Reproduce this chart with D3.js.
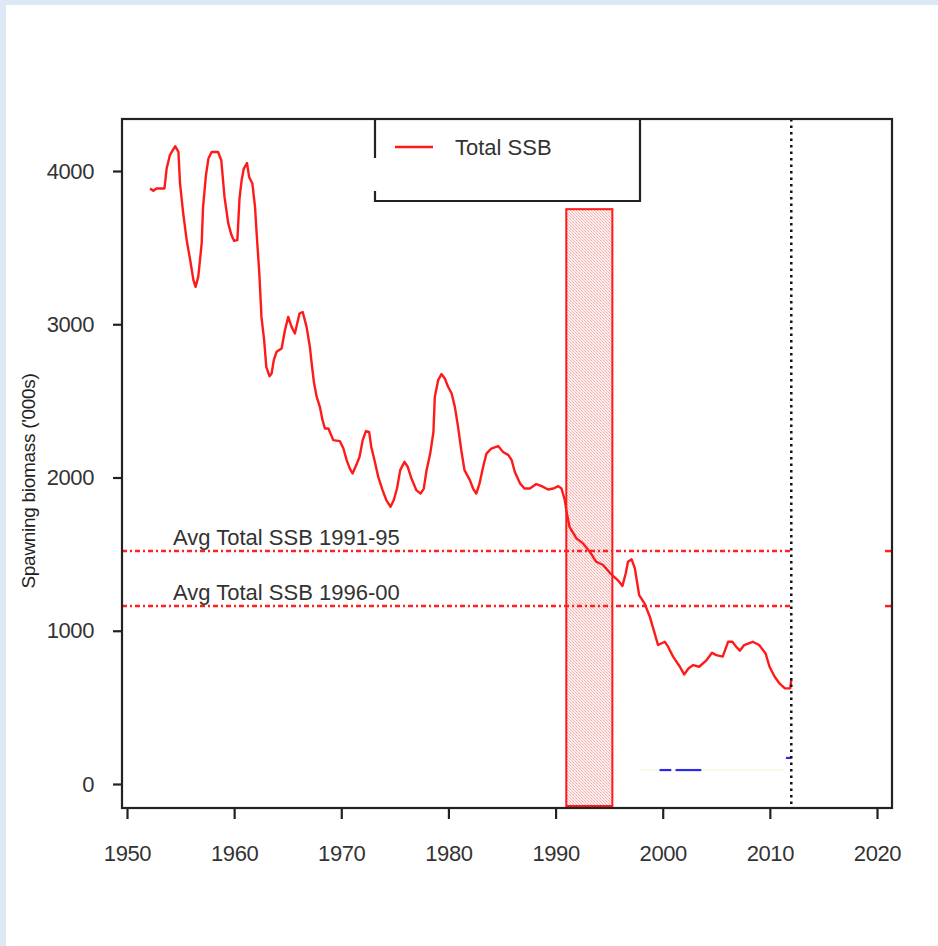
<!DOCTYPE html>
<html>
<head>
<meta charset="utf-8">
<script src="https://cdn.jsdelivr.net/npm/d3@7"></script>
<style>
  html, body { margin: 0; padding: 0; background: #ffffff; }
  svg { display: block; }
  text { font-family: "Liberation Sans", Arial, sans-serif; }
</style>
</head>
<body>
<svg id="chart" width="938" height="946"></svg>
<script>
// Total spawning stock biomass ('000s), sub-annual model output
const ssbYears = [
  1952.15, 1952.45, 1952.75, 1953.5, 1953.7, 1954.0, 1954.5, 1954.8, 1954.95, 1955.25,
  1955.57, 1955.9, 1956.2, 1956.4, 1956.65, 1956.97, 1957.1, 1957.37, 1957.6, 1957.9,
  1958.5, 1958.8, 1959.1, 1959.45, 1959.75, 1960.0, 1960.3, 1960.5, 1960.7, 1960.9,
  1961.2, 1961.4, 1961.7, 1961.95, 1962.1, 1962.35, 1962.55, 1962.8, 1963.0, 1963.3,
  1963.5, 1963.7, 1963.96, 1964.43, 1964.74, 1965.05, 1965.36, 1965.67, 1966.1, 1966.4,
  1966.76, 1967.07, 1967.2, 1967.45, 1967.7, 1968.0, 1968.25, 1968.47, 1968.8, 1969.25,
  1969.87, 1970.2, 1970.5, 1970.8, 1971.05, 1971.4, 1971.7, 1972.0, 1972.3, 1972.6,
  1972.8, 1973.1, 1973.45, 1973.85, 1974.2, 1974.6, 1974.9, 1975.2, 1975.5, 1975.9,
  1976.2, 1976.55, 1977.0, 1977.4, 1977.7, 1977.96, 1978.3, 1978.6, 1978.73, 1979.04,
  1979.35, 1979.66, 1979.97, 1980.3, 1980.6, 1980.9, 1981.2, 1981.5, 1982.0, 1982.3,
  1982.6, 1982.9, 1983.24, 1983.55, 1984.0, 1984.64, 1985.1, 1985.6, 1985.9, 1986.2,
  1986.7, 1987.1, 1987.6, 1988.2, 1988.7, 1989.3, 1989.8, 1990.25, 1990.55, 1990.86,
  1991.0, 1991.3, 1991.95, 1992.56, 1993.2, 1993.8, 1994.44, 1995.06, 1995.8, 1996.24,
  1996.55, 1996.76, 1997.1, 1997.4, 1997.8, 1998.3, 1998.8, 1999.25, 1999.56, 2000.2,
  2000.5, 2000.97, 2001.6, 2002.0, 2002.4, 2002.85, 2003.4, 2004.1, 2004.6, 2005.0,
  2005.6, 2006.1, 2006.5, 2006.86, 2007.2, 2007.6, 2008.4, 2009.0, 2009.6, 2009.97,
  2010.45, 2010.9, 2011.4, 2011.9, 2012.0
];
const ssbValues = [
  3886, 3871, 3886, 3886, 4016, 4103, 4162, 4124, 3918, 3722,
  3549, 3418, 3288, 3244, 3309, 3527, 3766, 3973, 4081, 4124,
  4124, 4070, 3831, 3658, 3582, 3544, 3549, 3820, 3940, 4016,
  4052, 3961, 3918, 3766, 3592, 3331, 3048, 2896, 2722, 2661,
  2679, 2766, 2820, 2842, 2961, 3048, 2983, 2940, 3070, 3080,
  2983, 2852, 2766, 2620, 2527, 2461, 2374, 2320, 2320, 2244,
  2237, 2189, 2113, 2058, 2026, 2081, 2134, 2244, 2303, 2297,
  2199, 2113, 2004, 1918, 1853, 1809, 1853, 1928, 2048, 2102,
  2070, 1993, 1918, 1895, 1928, 2048, 2156, 2297, 2527, 2635,
  2675, 2646, 2592, 2548, 2461, 2330, 2178, 2048, 1983, 1928,
  1895, 1960, 2070, 2156, 2189, 2205, 2167, 2146, 2113, 2036,
  1960, 1928, 1928, 1957, 1944, 1922, 1928, 1944, 1928, 1853,
  1787, 1678, 1603, 1570, 1515, 1450, 1429, 1378, 1331, 1292,
  1375, 1450, 1466, 1407, 1233, 1178, 1091, 983, 907, 928,
  896, 831, 765, 715, 754, 776, 765, 809, 856, 841,
  831, 928, 928, 896, 870, 907, 928, 907, 852, 765,
  700, 656, 624, 624, 680
];

// Reference averages
const avgLabels = ["Avg Total SSB 1991-95", "Avg Total SSB 1996-00"];
const avgValues = [1520, 1161];

// Highlighted period and last assessment year
const bandYears = [1991, 1995.3];
const bandTop = 3751;
const refYear = 2012;

// Short blue segments near the bottom
const blueStarts = [1999.7, 2001.2, 2011.5];
const blueEnds = [2000.8, 2003.6, 2012.0];
const blueValues = [91, 91, 170];

// Axis ticks
const xTicks = [1950, 1960, 1970, 1980, 1990, 2000, 2010, 2020];
const yTicks = [0, 1000, 2000, 3000, 4000];

const legendLabel = "Total SSB";
const yTitle = "Spawning biomass ('000s)";

// ---- layout ----
const W = 938, H = 946;
const frame = { left: 122, right: 892, top: 119, bottom: 808 };

const svg = d3.select("#chart");

// page background with light blue edges
svg.append("rect").attr("x", 0).attr("y", 0).attr("width", W).attr("height", H).attr("fill", "#ffffff");
svg.append("rect").attr("x", 0).attr("y", 0).attr("width", W).attr("height", 5).attr("fill", "#dce9f4");
svg.append("rect").attr("x", 0).attr("y", 0).attr("width", 6).attr("height", H).attr("fill", "#dce9f4");

const x = d3.scaleLinear().domain([1950, 2020]).range([127, 877]);
const y = d3.scaleLinear().domain([0, 4000]).range([784, 171]);

// stipple pattern for the highlighted period
const defs = svg.append("defs");
const pat = defs.append("pattern")
  .attr("id", "stipple").attr("patternUnits", "userSpaceOnUse")
  .attr("width", 3).attr("height", 3);
pat.append("rect").attr("width", 3).attr("height", 3).attr("fill", "#fdeeee");
pat.append("rect").attr("x", 0).attr("y", 0).attr("width", 1).attr("height", 1).attr("fill", "#f3a6a6");
pat.append("rect").attr("x", 1).attr("y", 1).attr("width", 1).attr("height", 1).attr("fill", "#f7c4c4");
pat.append("rect").attr("x", 2).attr("y", 2).attr("width", 1).attr("height", 1).attr("fill", "#f5b6b6");

const plot = svg.append("g");

// highlighted period
plot.append("rect")
  .attr("x", x(bandYears[0]))
  .attr("y", y(bandTop))
  .attr("width", x(bandYears[1]) - x(bandYears[0]))
  .attr("height", (frame.bottom - 2) - y(bandTop))
  .attr("fill", "url(#stipple)")
  .attr("stroke", "#ff1a1a")
  .attr("stroke-width", 2);

// average reference lines
avgValues.forEach((v, i) => {
  plot.append("line")
    .attr("x1", frame.left).attr("x2", x(refYear))
    .attr("y1", y(v)).attr("y2", y(v))
    .attr("stroke", "#ff2020").attr("stroke-width", 2.5)
    .attr("stroke-dasharray", "5,3,2,3");
  plot.append("line")
    .attr("x1", frame.right - 7).attr("x2", frame.right)
    .attr("y1", y(v)).attr("y2", y(v))
    .attr("stroke", "#ff2020").attr("stroke-width", 2.5);
  plot.append("text")
    .attr("x", 173).attr("y", y(v) - 6)
    .attr("font-size", 22).attr("fill", "#333")
    .text(avgLabels[i]);
});

// faint baseline under the blue marks
plot.append("line")
  .attr("x1", x(1998)).attr("x2", x(2011.3))
  .attr("y1", y(91)).attr("y2", y(91))
  .attr("stroke", "#fbf6dc").attr("stroke-width", 1.5);

// blue segments
blueStarts.forEach((s, i) => {
  plot.append("line")
    .attr("x1", x(s)).attr("x2", x(blueEnds[i]))
    .attr("y1", y(blueValues[i])).attr("y2", y(blueValues[i]))
    .attr("stroke", "#2a2aee").attr("stroke-width", 2.2);
});

// SSB series
const ssbData = ssbYears.map((yr, i) => [yr, ssbValues[i]]);
plot.append("path")
  .datum(ssbData)
  .attr("fill", "none")
  .attr("stroke", "#ff1a1a")
  .attr("stroke-width", 2.4)
  .attr("stroke-linejoin", "round")
  .attr("d", d3.line().x(d => x(d[0])).y(d => y(d[1])));

// last assessment year
plot.append("line")
  .attr("x1", x(refYear)).attr("x2", x(refYear))
  .attr("y1", frame.top).attr("y2", frame.bottom)
  .attr("stroke", "#111").attr("stroke-width", 2.5)
  .attr("stroke-dasharray", "2.5,4");

// legend
const lg = svg.append("g");
lg.append("path")
  .attr("d", `M375,${frame.top} V201 H640 V${frame.top}`)
  .attr("fill", "#ffffff").attr("stroke", "#222").attr("stroke-width", 2.2);
lg.append("rect").attr("x", 372).attr("y", 158).attr("width", 8).attr("height", 33).attr("fill", "#ffffff");
lg.append("line").attr("x1", 395).attr("x2", 433).attr("y1", 147).attr("y2", 147)
  .attr("stroke", "#ff1a1a").attr("stroke-width", 2.4);
lg.append("text").attr("x", 455).attr("y", 147).attr("dy", "0.35em")
  .attr("font-size", 22).attr("fill", "#333")
  .text(legendLabel);

// plot frame
svg.append("rect")
  .attr("x", frame.left).attr("y", frame.top)
  .attr("width", frame.right - frame.left).attr("height", frame.bottom - frame.top)
  .attr("fill", "none").attr("stroke", "#222").attr("stroke-width", 2.2);

// axes
const yAxis = svg.append("g")
  .attr("transform", `translate(${frame.left},0)`)
  .call(d3.axisLeft(y).tickValues(yTicks).tickSize(9).tickPadding(19).tickFormat(d3.format("d")));
const xAxis = svg.append("g")
  .attr("transform", `translate(0,${frame.bottom + 1})`)
  .call(d3.axisBottom(x).tickValues(xTicks).tickSize(10).tickPadding(26).tickFormat(d3.format("d")));

[yAxis, xAxis].forEach(g => {
  g.select(".domain").remove();
  g.selectAll(".tick line").attr("stroke", "#222").attr("stroke-width", 2.2);
  g.selectAll(".tick text")
    .attr("font-size", 22).attr("fill", "#333")
    .attr("letter-spacing", "-0.4")
    .style("font-family", "\"Liberation Sans\", Arial, sans-serif");
});

// y-axis title
svg.append("text")
  .attr("transform", "translate(35,481) rotate(-90)")
  .attr("text-anchor", "middle")
  .attr("font-size", 19).attr("fill", "#222")
  .attr("letter-spacing", "-0.3")
  .text(yTitle);
</script>
</body>
</html>
